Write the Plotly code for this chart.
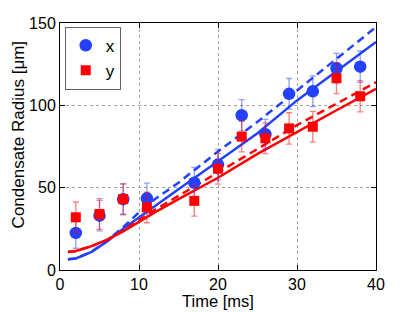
import plotly.graph_objects as go

# measured data
t_pts = [2, 5, 8, 11, 17, 20, 23, 26, 29, 32, 35, 38]
rx = [22.5, 33, 43, 43.5, 53, 64, 94, 82.5, 107, 108.5, 122.5, 123.5]
rx_err = [9.3, 9.3, 9.3, 9.3, 9.3, 9.3, 9.5, 9.0, 9.3, 9.3, 9.0, 9.5]
ry = [32, 34, 43, 38, 42, 61.5, 81, 80, 86, 87, 116.5, 105.5]
ry_err = [9.3, 9.3, 9.3, 9.3, 9.3, 9.3, 9.3, 9.3, 9.5, 9.3, 9.4, 9.5]

# model curves
t_line = [1, 2, 4, 6, 8, 10, 12, 15, 20, 25, 30, 35, 40]
bx_solid = [6.5, 7, 11, 17.5, 25, 32, 39, 49, 66, 83, 103, 121, 138.5]
bx_dash = [6.5, 7, 11, 18, 26, 35, 43, 53, 72, 90, 109, 128, 147.5]
ry_solid = [11, 11.5, 14.5, 18.5, 23.5, 29.5, 35, 43, 56, 70.5, 84, 97, 110]
ry_dash = [11, 11.5, 14.5, 18.5, 24, 30.5, 36.5, 45, 59, 73.5, 88, 101, 114]

x_ticks = [0, 10, 20, 30, 40]
y_ticks = [0, 50, 100, 150]

BLUE = "rgb(35,65,255)"
RED = "rgb(255,0,0)"
DASH = "8px,5px"

fig = go.Figure()
fig.add_trace(go.Scatter(x=t_line, y=bx_dash, mode="lines", line=dict(color=BLUE, width=2.5, dash=DASH), showlegend=False))
fig.add_trace(go.Scatter(x=t_line, y=bx_solid, mode="lines", line=dict(color=BLUE, width=2.5), showlegend=False))
fig.add_trace(go.Scatter(x=t_line, y=ry_dash, mode="lines", line=dict(color=RED, width=2.5, dash=DASH), showlegend=False))
fig.add_trace(go.Scatter(x=t_line, y=ry_solid, mode="lines", line=dict(color=RED, width=2.5), showlegend=False))

fig.add_trace(go.Scatter(
    x=t_pts, y=rx, mode="markers", name="x",
    marker=dict(symbol="circle", size=12.5, color=BLUE),
    error_y=dict(type="data", array=rx_err, color="rgba(35,65,255,0.5)", thickness=1.3, width=3),
))
fig.add_trace(go.Scatter(
    x=t_pts, y=ry, mode="markers", name="y",
    marker=dict(symbol="square", size=10, color=RED),
    error_y=dict(type="data", array=ry_err, color="rgba(255,0,0,0.5)", thickness=1.3, width=3),
))

axis_common = dict(
    showline=True, linecolor="black", linewidth=1, mirror="ticks",
    ticks="inside", ticklen=5, tickcolor="black",
    showgrid=True, gridcolor="rgb(160,160,160)", griddash="dot", gridwidth=1,
    zeroline=False, tickfont=dict(size=16, color="black"), automargin=False,
)

# the page body adds an 8px offset; the figure is sized to fit the window
fig.update_layout(
    width=407, height=304,
    margin=dict(l=52, r=39, t=14.5, b=41.5),
    paper_bgcolor="white", plot_bgcolor="white",
    font=dict(family="Liberation Sans, Arial, sans-serif", size=16, color="black"),
    xaxis=dict(range=[0, 40], tickvals=x_ticks, **axis_common),
    yaxis=dict(range=[0, 150], tickvals=y_ticks, **axis_common),
    legend=dict(x=0.015, y=0.985, xanchor="left", yanchor="top",
                bgcolor="white", bordercolor="rgb(100,100,100)", borderwidth=1,
                font=dict(size=17), itemwidth=30, tracegroupgap=0),
    showlegend=True,
    annotations=[
        dict(text="Time [ms]", xref="paper", yref="paper", x=0.5, y=0,
             xanchor="center", yanchor="top", yshift=-19.5, showarrow=False,
             font=dict(size=16.5)),
        dict(text="Condensate Radius [μm]", xref="paper", yref="paper", x=0, y=0.545,
             xanchor="center", yanchor="middle", xshift=-42, textangle=-90,
             showarrow=False, font=dict(size=17)),
    ],
)

fig.write_html("out.html")
